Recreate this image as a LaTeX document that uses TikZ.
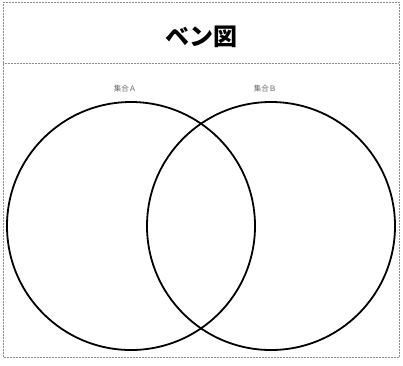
\documentclass[tikz,border=0pt]{standalone}
\usepackage{fontspec}
\newfontfamily\jpfont{Noto Sans CJK JP}
\usetikzlibrary{positioning}
\tikzset{
  kor/.style={circle,draw,line width=1.8pt,minimum size=248pt,inner sep=0pt},
  cim/.style={font=\jpfont\bfseries\fontsize{24}{26}\selectfont},
  felirat/.style={font=\jpfont\fontsize{7.5}{8}\selectfont,text=black!60},
  keret/.style={draw=black!45,densely dotted,line width=0.5pt},
}
\begin{document}
\begin{tikzpicture}[x=1pt,y=-1pt]
  \useasboundingbox (0,0) rectangle (403,365);
  \draw[keret] (3,2) rectangle (399,357);
  \draw[keret] (3,63) -- (399,63);
  \node[cim] (title) at (201,37) {ベン図};
  \node[kor] (A) at (131,226) {};
  \node[kor] (B) at (271,226) {};
  \node[felirat] (la) at (125,89) {集合Ａ};
  \node[felirat] (lb) at (265,89) {集合Ｂ};
\end{tikzpicture}
\end{document}
